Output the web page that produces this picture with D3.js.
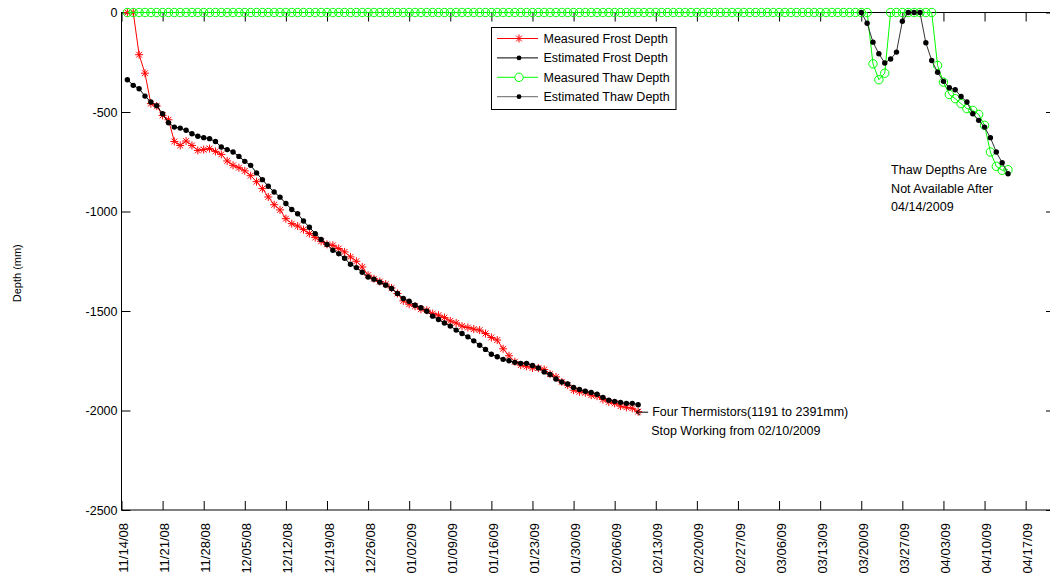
<!DOCTYPE html>
<html>
<head>
<meta charset="utf-8">
<script src="https://cdn.jsdelivr.net/npm/d3@7"></script>
<style>
  body { margin: 0; background: #fff; }
  text { font-family: Arial, "Liberation Sans", sans-serif; fill: #000; }
</style>
</head>
<body>
<div id="vis"></div>
<script>
// daily series, one value per day starting at the given day offset from startDate
const startDate = "2008-11-14";
const lastDay = 159;

const tickLabels = ["11/14/08", "11/21/08", "11/28/08", "12/05/08", "12/12/08", "12/19/08",
  "12/26/08", "01/02/09", "01/09/09", "01/16/09", "01/23/09", "01/30/09", "02/06/09",
  "02/13/09", "02/20/09", "02/27/09", "03/06/09", "03/13/09", "03/20/09", "03/27/09",
  "04/03/09", "04/10/09", "04/17/09"];
const depthTicks = [0, -500, -1000, -1500, -2000, -2500];

const measuredFrostFirstDay = 1;
const measuredFrost = [
  0, 0, -212, -305, -458, -470, -517, -539, -648, -668,
  -646, -668, -693, -689, -684, -698, -713, -746, -768, -780,
  -796, -820, -850, -885, -927, -966, -992, -1036, -1061, -1073,
  -1091, -1111, -1131, -1150, -1165, -1170, -1186, -1203, -1228, -1250,
  -1279, -1320, -1338, -1352, -1365, -1384, -1412, -1449, -1466, -1476,
  -1491, -1496, -1513, -1521, -1533, -1550, -1560, -1576, -1583, -1591,
  -1596, -1613, -1633, -1646, -1690, -1725, -1755, -1772, -1778, -1786,
  -1787, -1794, -1817, -1831, -1856, -1873, -1898, -1906, -1911, -1923,
  -1928, -1945, -1957, -1964, -1978, -1984, -1989, -2006
];

const estimatedFrostFirstDay = 1;
const estimatedFrost = [
  -338, -366, -383, -420, -450, -468, -509, -554, -576, -581,
  -592, -609, -622, -629, -634, -648, -676, -689, -701, -723,
  -748, -768, -806, -840, -873, -902, -928, -960, -990, -1011,
  -1048, -1079, -1111, -1141, -1166, -1195, -1212, -1235, -1265, -1282,
  -1305, -1329, -1340, -1355, -1370, -1387, -1412, -1437, -1451, -1471,
  -1484, -1501, -1526, -1543, -1560, -1576, -1596, -1613, -1630, -1650,
  -1672, -1693, -1717, -1730, -1743, -1750, -1758, -1763, -1763, -1774,
  -1786, -1806, -1819, -1842, -1857, -1867, -1884, -1894, -1903, -1909,
  -1918, -1934, -1948, -1954, -1959, -1964, -1964, -1971
];

const measuredThawFirstDay = 1;
const measuredThaw = [
  0, 0, 0, 0, 0, 0, 0, 0, 0, 0,
  0, 0, 0, 0, 0, 0, 0, 0, 0, 0,
  0, 0, 0, 0, 0, 0, 0, 0, 0, 0,
  0, 0, 0, 0, 0, 0, 0, 0, 0, 0,
  0, 0, 0, 0, 0, 0, 0, 0, 0, 0,
  0, 0, 0, 0, 0, 0, 0, 0, 0, 0,
  0, 0, 0, 0, 0, 0, 0, 0, 0, 0,
  0, 0, 0, 0, 0, 0, 0, 0, 0, 0,
  0, 0, 0, 0, 0, 0, 0, 0, 0, 0,
  0, 0, 0, 0, 0, 0, 0, 0, 0, 0,
  0, 0, 0, 0, 0, 0, 0, 0, 0, 0,
  0, 0, 0, 0, 0, 0, 0, 0, 0, 0,
  0, 0, 0, 0, 0, 0, 0,
  -258, -338, -305,
  0, 0, 0, 0, 0, 0, 0, 0,
  -266, -350, -412, -433, -458, -483, -492, -512, -567, -701,
  -773, -793, -790
];

const estimatedThawFirstDay = 126;
const estimatedThaw = [
  0, -54, -149, -207, -254, -234, -199, -44, 0, 0,
  0, -152, -241, -300, -346, -378, -388, -422, -450, -509,
  -542, -576, -629, -701, -755, -810
];

const legendLabels = ["Measured Frost Depth", "Estimated Frost Depth", "Measured Thaw Depth", "Estimated Thaw Depth"];

const W = 1050, H = 581;
const t0 = d3.utcParse("%Y-%m-%d")(startDate);
const parseTick = d3.utcParse("%m/%d/%y");
const toPoints = (first, vals) => vals.map((v, i) => ({ date: d3.utcDay.offset(t0, first + i), v }));

const x = d3.scaleUtc().domain([t0, d3.utcDay.offset(t0, lastDay)]).range([121.5, 1055]);
const y = d3.scaleLinear().domain([-2500, 0]).range([510, 12.5]);

const svg = d3.select("#vis").append("svg").attr("width", W).attr("height", H);
svg.append("rect").attr("width", W).attr("height", H).attr("fill", "#fff");

const tickDates = tickLabels.map(parseTick);
const fmt = d3.utcFormat("%m/%d/%y");

// axes
const gx = svg.append("g").attr("transform", `translate(0,${y(-2500)})`)
  .call(d3.axisBottom(x).tickValues(tickDates).tickFormat(fmt).tickSizeInner(-9).tickSizeOuter(0));
gx.selectAll("text")
  .attr("transform", "rotate(-90)")
  .attr("text-anchor", "end")
  .attr("x", -13).attr("y", 1.5).attr("dy", "0.35em")
  .style("font-size", "13px");

svg.append("g").attr("transform", `translate(0,${y(0)})`)
  .call(d3.axisTop(x).tickValues(tickDates).tickFormat("").tickSizeInner(-9).tickSizeOuter(0));

const gy = svg.append("g").attr("transform", `translate(${x.range()[0]},0)`)
  .call(d3.axisLeft(y).tickValues(depthTicks).tickFormat(d => String(d))
    .tickSizeInner(-9).tickSizeOuter(0).tickPadding(4));
gy.selectAll("text").style("font-size", "12.5px");

svg.append("g").attr("transform", `translate(${x.range()[1]},0)`)
  .call(d3.axisRight(y).tickValues(depthTicks).tickFormat("").tickSizeInner(-9).tickSizeOuter(0));

svg.selectAll(".domain").remove();
svg.selectAll(".tick line").attr("stroke", "#000");
svg.selectAll(".tick text").attr("fill", "#000").style("font-family", "Arial, 'Liberation Sans', sans-serif");

svg.append("rect")
  .attr("x", x.range()[0]).attr("y", y(0))
  .attr("width", x.range()[1] - x.range()[0]).attr("height", y(-2500) - y(0))
  .attr("fill", "none").attr("stroke", "#000").attr("stroke-width", 1);

svg.append("text")
  .attr("transform", `translate(21,${(y(0) + y(-2500)) / 2 + 12}) rotate(-90)`)
  .attr("text-anchor", "middle")
  .style("font-size", "11px")
  .text("Depth (mm)");

// series
const line = d3.line().x(d => x(d.date)).y(d => y(d.v));
const starPath = "M-4,0H4M0,-4V4M-2.9,-2.9L2.9,2.9M-2.9,2.9L2.9,-2.9";

function drawSeries(pts, lineColor, marker) {
  const g = svg.append("g");
  g.append("path").datum(pts).attr("d", line)
    .attr("fill", "none").attr("stroke", lineColor).attr("stroke-width", 1);
  const m = g.selectAll(null).data(pts).enter();
  if (marker === "star") {
    m.append("path").attr("d", starPath)
      .attr("transform", d => `translate(${x(d.date)},${y(d.v)})`)
      .attr("stroke", "#ff0000").attr("stroke-width", 1).attr("fill", "none");
  } else if (marker === "dot") {
    m.append("circle").attr("cx", d => x(d.date)).attr("cy", d => y(d.v)).attr("r", 2.7)
      .attr("fill", "#000");
  } else {
    m.append("circle").attr("cx", d => x(d.date)).attr("cy", d => y(d.v)).attr("r", 4.2)
      .attr("fill", "none").attr("stroke", "#00ff00").attr("stroke-width", 1);
  }
}

const mfPts = toPoints(measuredFrostFirstDay, measuredFrost);
drawSeries(mfPts, "#ff0000", "star");
drawSeries(toPoints(estimatedFrostFirstDay, estimatedFrost), "#000", "dot");
drawSeries(toPoints(measuredThawFirstDay, measuredThaw), "#00ff00", "circle");
drawSeries(toPoints(estimatedThawFirstDay, estimatedThaw), "#333", "dot");

// annotations
const last = mfPts[mfPts.length - 1];
const ax = x(last.date) - 2, ay = y(last.v);
svg.append("line").attr("x1", ax).attr("x2", ax + 12).attr("y1", ay + 0.5).attr("y2", ay + 0.5)
  .attr("stroke", "#000").attr("stroke-width", 1);
svg.append("path").attr("d", `M${ax + 4},${ay - 2.5}L${ax},${ay + 0.5}L${ax + 4},${ay + 3.5}`)
  .attr("fill", "none").attr("stroke", "#000").attr("stroke-width", 1);
svg.append("text").attr("x", ax + 16).attr("y", ay + 4.5).style("font-size", "12.5px").text("Four Thermistors(1191 to 2391mm)");
svg.append("text").attr("x", ax + 15).attr("y", ay + 23.5).style("font-size", "12.5px").text("Stop Working from 02/10/2009");

const noteX = x(parseTick("03/25/09")) + 0.5, noteY = y(-810) + 0.5;
["Thaw Depths Are", "Not Available After", "04/14/2009"].forEach((s, i) => {
  svg.append("text").attr("x", noteX).attr("y", noteY + i * 18.6).style("font-size", "12.5px").text(s);
});

// legend
const lg = svg.append("g");
lg.append("rect").attr("x", 491.5).attr("y", 27.5).attr("width", 184.5).attr("height", 82)
  .attr("fill", "#fff").attr("stroke", "#000").attr("stroke-width", 1);
const legColors = ["#ff0000", "#000", "#00ff00", "#666"];
const legMarkers = ["star", "dot", "circle", "dot"];
legendLabels.forEach((lab, i) => {
  const cy = 38.5 + i * 19.4;
  lg.append("line").attr("x1", 497).attr("x2", 538).attr("y1", cy).attr("y2", cy)
    .attr("stroke", legColors[i]).attr("stroke-width", 1);
  if (legMarkers[i] === "star") {
    lg.append("path").attr("d", starPath).attr("transform", `translate(519,${cy})`)
      .attr("stroke", "#ff0000").attr("fill", "none");
  } else if (legMarkers[i] === "dot") {
    lg.append("circle").attr("cx", 519).attr("cy", cy).attr("r", 2.4).attr("fill", "#000");
  } else {
    lg.append("circle").attr("cx", 519).attr("cy", cy).attr("r", 4.2)
      .attr("fill", "#fff").attr("stroke", "#00ff00");
  }
  lg.append("text").attr("x", 543.5).attr("y", cy + 4.3).style("font-size", "12.5px").text(lab);
});
</script>
</body>
</html>
